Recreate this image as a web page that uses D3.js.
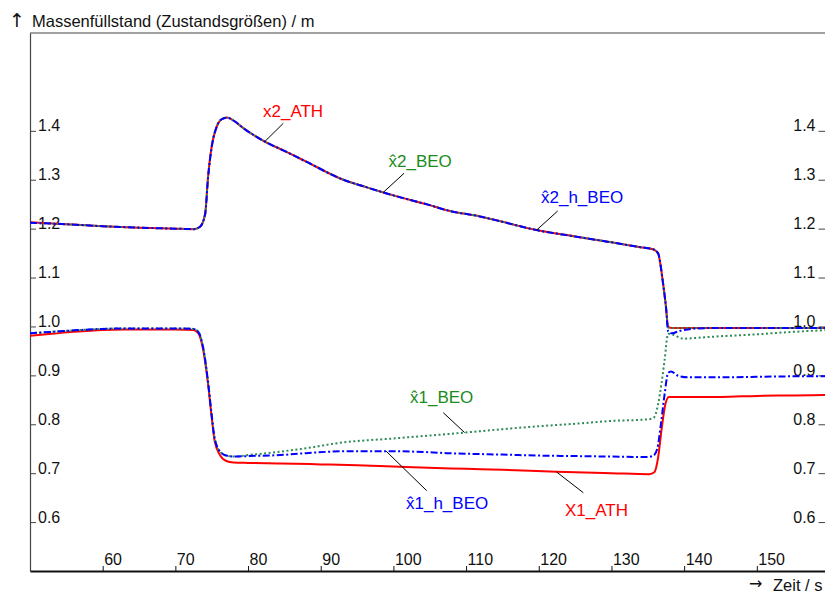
<!DOCTYPE html>
<html><head><meta charset="utf-8">
<script src="https://cdn.jsdelivr.net/npm/d3@7"></script>
<style>
body{margin:0;background:#fff}
svg{display:block}
text{font-family:"Liberation Sans",Arial,sans-serif}
</style>
</head><body>
<svg id="c" width="825" height="594"></svg>
<script>
// ---------- data ----------
const xTicks = [60,70,80,90,100,110,120,130,140,150];
const yTicks = [0.6,0.7,0.8,0.9,1.0,1.1,1.2,1.3,1.4];

// upper level x2 (ATH = simulation, red)
const t_x2_ATH = [50,55,60,65,70,72.5,73.4,74.1,74.5,75.0,75.7,76.4,77.1,78.2,79.4,80.7,82.3,85,88,93.1,96,98.6,100,105,107.8,111.9,115,119.7,125,130,134,135.7,136.4,137.1,137.5,137.8,138.3,145,150,155,160];
const v_x2_ATH = [1.213,1.209,1.205,1.202,1.200,1.199,1.204,1.231,1.306,1.368,1.409,1.424,1.427,1.419,1.405,1.392,1.378,1.359,1.337,1.300,1.286,1.274,1.268,1.248,1.236,1.225,1.214,1.197,1.184,1.172,1.162,1.158,1.150,1.088,1.04,0.999,0.997,0.997,0.997,0.997,0.997];
// x2 observer (green dotted)
const t_x2_BEO = [50,55,60,65,70,72.5,73.4,74.1,74.5,75.0,75.7,76.4,77.1,78.2,79.4,80.7,82.3,85,88,93.1,96,98.6,100,105,107.8,111.9,115,119.7,125,130,134,135.7,136.4,137.1,137.5,137.8,138.3,140,145,150,155,160];
const v_x2_BEO = [1.212,1.209,1.205,1.202,1.200,1.199,1.204,1.230,1.305,1.367,1.409,1.424,1.427,1.419,1.405,1.392,1.378,1.359,1.337,1.300,1.286,1.274,1.268,1.248,1.236,1.225,1.214,1.197,1.184,1.172,1.162,1.158,1.150,1.088,1.04,0.998,0.997,0.997,0.997,0.997,0.997,0.997];
// x2 observer h (blue dash-dot)
const t_x2_hBEO = [50,55,60,65,70,72.5,73.4,74.1,74.5,75.0,75.7,76.4,77.1,78.2,79.4,80.7,82.3,85,88,93.1,96,98.6,100,105,107.8,111.9,115,119.7,125,130,134,135.7,136.4,137.1,137.5,137.8,138.3,139.2,140.5,142,145,150,155,160];
const v_x2_hBEO = [1.212,1.209,1.205,1.202,1.200,1.199,1.204,1.230,1.305,1.367,1.409,1.424,1.427,1.419,1.405,1.392,1.378,1.359,1.337,1.300,1.286,1.274,1.268,1.248,1.236,1.225,1.214,1.197,1.184,1.172,1.162,1.158,1.150,1.088,1.04,0.990,0.986,0.990,0.994,0.996,0.997,0.997,0.997,0.997];

// lower level x1 (ATH = simulation, red)
const t_x1_ATH = [50,53,56,60,63,70,72.5,73.2,73.85,74.5,75.0,75.4,76.1,77.0,78,80,84.4,90,95,102.7,110,115,122.4,130,135.2,135.9,136.4,136.9,137.4,137.9,140,145,150,155,160];
const v_x1_ATH = [0.981,0.985,0.989,0.993,0.994,0.994,0.993,0.985,0.950,0.882,0.814,0.766,0.738,0.725,0.722,0.721,0.720,0.718,0.716,0.712,0.709,0.707,0.703,0.700,0.698,0.702,0.730,0.790,0.840,0.856,0.856,0.856,0.858,0.859,0.860];
// x1 observer (green dotted)
const t_x1_BEO = [50,53,56,60,63,70,72.5,73.2,73.85,74.5,75.0,75.4,76.1,77.0,78,80,84.4,88,92.6,100,105,109.8,115,120,125,130.2,135,135.8,136.4,136.9,137.3,137.8,138.3,139.9,142,145,149,154,160];
const v_x1_BEO = [0.986,0.989,0.992,0.995,0.996,0.996,0.995,0.988,0.955,0.886,0.818,0.772,0.745,0.736,0.734,0.737,0.744,0.751,0.762,0.771,0.777,0.783,0.790,0.796,0.801,0.807,0.810,0.813,0.840,0.885,0.930,0.985,0.984,0.975,0.977,0.980,0.983,0.988,0.993];
// x1 observer h (blue dash-dot)
const t_x1_hBEO = [50,53,56,60,63,70,72.5,73.2,73.85,74.5,75.0,75.4,76.1,77.0,78,80,84.4,88,93.6,99,103,107.3,115,120,125,130,134.8,135.7,136.3,136.8,137.3,137.8,138.2,139.2,140.5,145,150,155,160];
const v_x1_hBEO = [0.986,0.989,0.992,0.995,0.996,0.996,0.995,0.988,0.955,0.886,0.818,0.772,0.745,0.736,0.734,0.735,0.737,0.741,0.745,0.745,0.744,0.741,0.738,0.736,0.735,0.734,0.733,0.735,0.750,0.800,0.860,0.905,0.908,0.899,0.896,0.896,0.897,0.898,0.898];

// curve labels ("\u0302" = circumflex "hat" on the observer estimates)
const labelTexts = ["x2_ATH","x\u03022_BEO","x\u03022_h_BEO","x\u03021_BEO","x\u03021_h_BEO","X1_ATH"];

// ---------- drawing ----------
const svg = d3.select("#c");
const x = d3.scaleLinear().domain([50,160]).range([30,829.5]);
const y = d3.scaleLinear().domain([0.5,1.6]).range([571,33]);

const RED="#ff0000", GREEN="#2e8b57", BLUE="#0000ff", GREENTXT="#1a8c1a";

svg.append("defs").append("clipPath").attr("id","clip")
  .append("rect").attr("x",30).attr("y",33).attr("width",800).attr("height",538);

// top frame line
svg.append("line").attr("x1",x(50)).attr("x2",830).attr("y1",y(1.6)).attr("y2",y(1.6))
  .attr("stroke","#444").attr("stroke-width",1.2);

// left axis (labels inside)
const gl = svg.append("g").attr("transform",`translate(${x(50)},0)`)
  .call(d3.axisRight(y).tickValues(yTicks).tickSize(6).tickSizeOuter(0).tickFormat(d3.format(".1f")));
gl.select(".domain").attr("stroke","#444").attr("stroke-width",1.2);
gl.selectAll(".tick line").attr("stroke","#444");
gl.selectAll(".tick text").attr("x",8).attr("dy","0").attr("font-size",16).attr("fill","#111");

// right axis
const gr = svg.append("g").attr("transform",`translate(${x(160)},0)`)
  .call(d3.axisLeft(y).tickValues(yTicks).tickSize(11).tickSizeOuter(0).tickFormat(d3.format(".1f")));
gr.select(".domain").attr("stroke","#444");
gr.selectAll(".tick line").attr("stroke","#444");
gr.selectAll(".tick text").attr("x",-14).attr("dy","0").attr("font-size",16).attr("fill","#111");

// bottom axis (ticks + labels inside)
const gb = svg.append("g").attr("transform",`translate(0,${y(0.5)})`)
  .call(d3.axisTop(x).tickValues(xTicks).tickSize(5).tickSizeOuter(0));
gb.select(".domain").attr("stroke","#111").attr("stroke-width",2);
gb.selectAll(".tick line").attr("stroke","#111");
gb.selectAll(".tick text").attr("x",1).attr("y",-6).attr("dy","0").attr("text-anchor","start")
  .attr("font-size",16).attr("fill","#111");

// lines
const plot = svg.append("g").attr("clip-path","url(#clip)");
const line = d3.line().x(d=>x(d[0])).y(d=>y(d[1])).curve(d3.curveMonotoneX);
function draw(ts, vs, color, dash){
  plot.append("path").datum(ts.map((t,i)=>[t,vs[i]]))
    .attr("d",line).attr("fill","none").attr("stroke",color).attr("stroke-width",2)
    .attr("stroke-dasharray",dash||null).attr("stroke-linejoin","round");
}
draw(t_x1_ATH, v_x1_ATH, RED);
draw(t_x2_ATH, v_x2_ATH, RED);
draw(t_x1_BEO, v_x1_BEO, GREEN, "2,2.5");
draw(t_x2_BEO, v_x2_BEO, GREEN, "2,2.5");
draw(t_x1_hBEO, v_x1_hBEO, BLUE, "7,2.5,2,2.5");
draw(t_x2_hBEO, v_x2_hBEO, BLUE, "7,2.5,2,2.5");

// labels with leader lines
const labs = [
  {i:0, c:RED,      lx:263,   ly:116.7, l:[283.3,123.3], t:82.3,  v:1.378},
  {i:1, c:GREENTXT, lx:388.5, ly:167.3, l:[404,173.3],   t:98.6,  v:1.274},
  {i:2, c:BLUE,     lx:541,   ly:202.5, l:[557.7,211],   t:119.7, v:1.197},
  {i:3, c:GREENTXT, lx:410,   ly:402.7, l:[443.3,412.7], t:109.8, v:0.783},
  {i:4, c:BLUE,     lx:406,   ly:509.3, l:[426.7,490.7], t:99,    v:0.745},
  {i:5, c:RED,      lx:565,   ly:515.7, l:[583.3,492.7], t:122.4, v:0.703}
];
labs.forEach(d=>{
  svg.append("line").attr("x1",d.l[0]).attr("y1",d.l[1]).attr("x2",x(d.t)).attr("y2",y(d.v))
    .attr("stroke","#000").attr("stroke-width",1);
  svg.append("text").attr("x",d.lx).attr("y",d.ly).attr("fill",d.c).attr("font-size",17)
    .text(labelTexts[d.i]);
});

// axis titles
svg.append("text").attr("x",9).attr("y",27).style("font-size","19px")
  .style("font-family","'DejaVu Sans'").attr("fill","#111").text("\u2191");
svg.append("text").attr("x",32).attr("y",27).attr("font-size",16.5).attr("fill","#111")
  .text("Massenfüllstand (Zustandsgrößen) / m");
svg.append("text").attr("x",749).attr("y",589).style("font-size","16px")
  .style("font-family","'DejaVu Sans'").attr("fill","#111").text("\u2192");
svg.append("text").attr("x",773).attr("y",590.5).attr("font-size",16.5).attr("fill","#111").text("Zeit / s");
</script>
</body></html>
